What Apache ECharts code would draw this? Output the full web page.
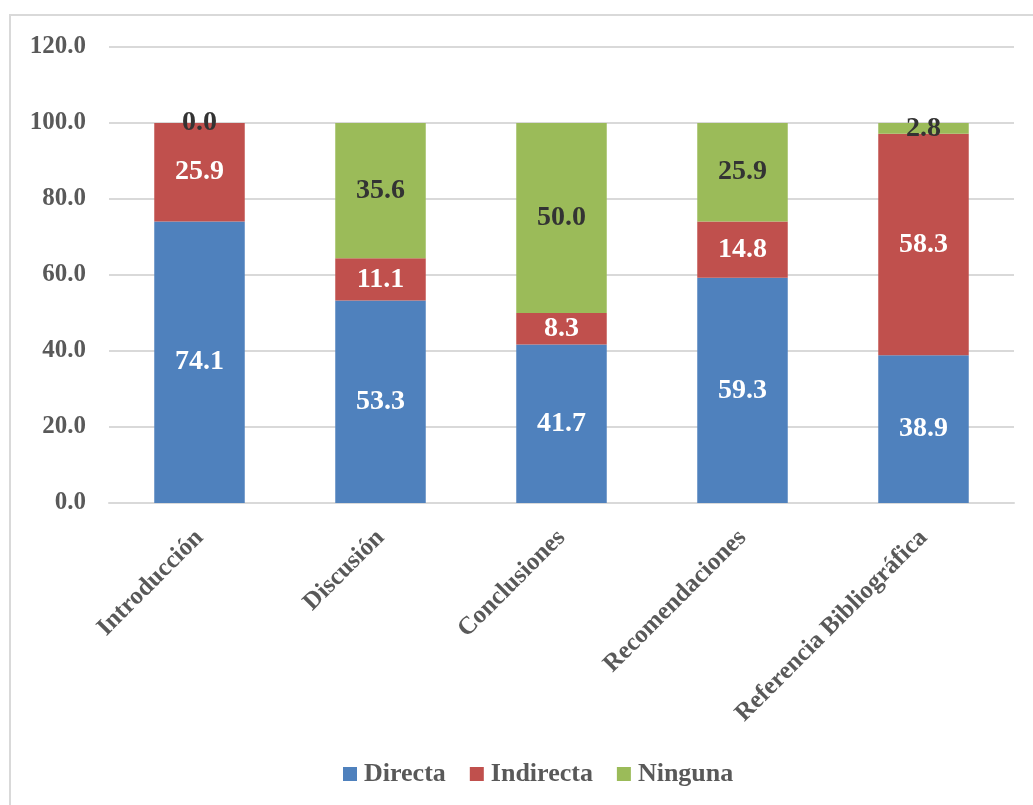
<!DOCTYPE html>
<html>
<head>
<meta charset="utf-8">
<style>
    html, body { margin: 0; padding: 0; background: #fff; }
    #chart { width: 1033px; height: 805px; }
</style>
<script src="https://cdn.jsdelivr.net/npm/echarts@6/dist/echarts.min.js"></script>
</head>
<body>
<div id="chart"></div>
<script>
    // datos
    const categories = ['Introducción', 'Discusión', 'Conclusiones', 'Recomendaciones', 'Referencia Bibliográfica'];
    const directa = [74.1, 53.3, 41.7, 59.3, 38.9];
    const indirecta = [25.9, 11.1, 8.3, 14.8, 58.3];
    const ninguna = [0.0, 35.6, 50.0, 25.9, 2.8];
    const yTicks = { min: 0, max: 120, interval: 20 };

    const serif = '"Liberation Serif", "DejaVu Serif", serif';
    const grey = '#595959';

    const mkSeries = (name, data, color, labelColor) => ({
        name,
        type: 'bar',
        stack: 'total',
        barWidth: '50%',
        data,
        itemStyle: { color },
        label: {
            show: true,
            position: 'inside',
            color: labelColor,
            fontFamily: serif,
            fontWeight: 'bold',
            fontSize: 28,
            formatter: p => p.value.toFixed(1)
        }
    });

    let chart = echarts.init(document.getElementById('chart'));
    chart.setOption({
        animation: false,
        textStyle: { fontFamily: serif },
        graphic: [{
            type: 'rect',
            shape: { x: 10, y: 15, width: 1100, height: 900 },
            style: { fill: 'none', stroke: '#d9d9d9', lineWidth: 2 },
            silent: true
        }],
        grid: { left: 109, right: 19, top: 47, bottom: 302 },
        legend: {
            left: 338,
            bottom: 13,
            itemWidth: 14,
            itemHeight: 14,
            itemGap: 24,
            icon: 'rect',
            textStyle: { color: grey, fontFamily: serif, fontWeight: 'bold', fontSize: 26, padding: [0, 0, 0, 2] },
            data: ['Directa', 'Indirecta', 'Ninguna']
        },
        xAxis: {
            type: 'category',
            data: categories,
            axisLine: { lineStyle: { color: '#d9d9d9', width: 2 } },
            axisTick: { show: false },
            axisLabel: {
                interval: 0,
                rotate: 45,
                margin: 31,
                color: grey,
                fontFamily: serif,
                fontWeight: 'bold',
                fontSize: 25
            }
        },
        yAxis: {
            type: 'value',
            min: yTicks.min,
            max: yTicks.max,
            interval: yTicks.interval,
            axisLine: { show: false },
            axisTick: { show: false },
            splitLine: { lineStyle: { color: '#d9d9d9', width: 2 } },
            axisLabel: {
                margin: 23,
                color: grey,
                fontFamily: serif,
                fontWeight: 'bold',
                fontSize: 25,
                formatter: v => v.toFixed(1)
            }
        },
        series: [
            mkSeries('Directa', directa, '#4F81BD', '#ffffff'),
            mkSeries('Indirecta', indirecta, '#C0504D', '#ffffff'),
            mkSeries('Ninguna', ninguna, '#9BBB59', '#333333')
        ]
    });
</script>
</body>
</html>
